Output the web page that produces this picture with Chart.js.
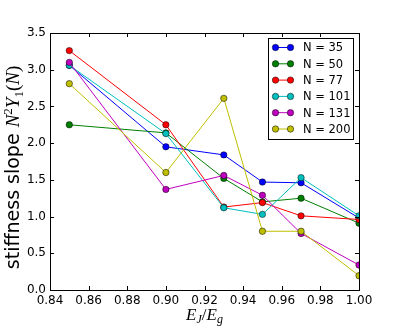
<!DOCTYPE html>
<html>
<head>
<meta charset="utf-8">
<script src="https://cdn.jsdelivr.net/npm/chart.js@4.4.0/dist/chart.umd.min.js"></script>
<style>
  html, body { margin: 0; padding: 0; background: #fff; }
  #wrap { width: 399px; height: 332px; }
</style>
</head>
<body>
<div id="wrap"><canvas id="chart" width="399" height="332"></canvas></div>
<script>
// Datos
const ejEg = [0.85, 0.90, 0.93, 0.95, 0.97, 1.00];
const labelsN = ['N = 35', 'N = 50', 'N = 77', 'N = 101', 'N = 131', 'N = 200'];
const n35 = [3.06, 1.95, 1.84, 1.47, 1.46, 0.98];
const n50 = [2.25, 2.14, 1.52, 1.20, 1.25, 0.91];
const n77 = [3.26, 2.25, 1.13, 1.19, 1.01, 0.96];
const n101 = [3.06, 2.13, 1.12, 1.03, 1.53, 1.01];
const n131 = [3.10, 1.37, 1.56, 1.29, 0.77, 0.34];
const n200 = [2.81, 1.60, 2.61, 0.80, 0.80, 0.195];
const xTicks = [0.84, 0.86, 0.88, 0.90, 0.92, 0.94, 0.96, 0.98, 1.00];
const yTicks = [0.0, 0.5, 1.0, 1.5, 2.0, 2.5, 3.0, 3.5];

// Colores estilo matplotlib clásico
const colores = ['#0000ff', '#008000', '#ff0000', '#00bfbf', '#bf00bf', '#bfbf00'];
const series = [n35, n50, n77, n101, n131, n200];

const datasets = series.map((vals, i) => ({
  label: labelsN[i],
  data: vals.map((v, j) => ({ x: ejEg[j], y: v })),
  showLine: true,
  borderColor: colores[i],
  borderWidth: 1,
  backgroundColor: colores[i],
  pointBackgroundColor: colores[i],
  pointBorderColor: '#000',
  pointBorderWidth: 0.5,
  pointRadius: 3.2,
  clip: 0,
  order: 10 - i
}));

// Texto con partes de distinto estilo (mathtext aproximado)
function drawSegments(ctx, segs, cx, cy) {
  let total = 0;
  segs.forEach(s => { ctx.font = s.font; s.w = ctx.measureText(s.t).width; total += s.w; });
  let x = cx - total / 2;
  ctx.textBaseline = 'alphabetic';
  ctx.textAlign = 'left';
  segs.forEach(s => {
    ctx.font = s.font;
    ctx.fillText(s.t, x, cy + (s.dy || 0));
    x += s.w;
  });
}

const framePlugin = {
  id: 'frame',
  afterDraw(chart) {
    const ctx = chart.ctx;
    const a = chart.chartArea;
    const xs = chart.scales.x, ys = chart.scales.y;
    ctx.save();
    ctx.strokeStyle = '#000';
    ctx.lineWidth = 1;
    ctx.strokeRect(Math.round(a.left) + 0.5, Math.round(a.top) + 0.5,
      Math.round(a.right - a.left), Math.round(a.bottom - a.top));
    // ticks hacia dentro
    ctx.beginPath();
    xTicks.forEach(t => {
      const px = Math.round(xs.getPixelForValue(t)) + 0.5;
      ctx.moveTo(px, a.bottom); ctx.lineTo(px, a.bottom - 4);
      ctx.moveTo(px, a.top); ctx.lineTo(px, a.top + 4);
    });
    yTicks.forEach(t => {
      const py = Math.round(ys.getPixelForValue(t)) + 0.5;
      ctx.moveTo(a.left, py); ctx.lineTo(a.left + 4, py);
      ctx.moveTo(a.right, py); ctx.lineTo(a.right - 4, py);
    });
    ctx.stroke();

    // títulos de ejes
    ctx.fillStyle = '#000';
    const mi = 'italic 19px "Liberation Serif"';
    const up = '19px "Liberation Serif"';
    drawSegments(ctx, [
      { t: 'E', font: 'italic 17px "Liberation Serif"' },
      { t: 'J', font: 'italic 12px "Liberation Serif"', dy: 3 },
      { t: '/', font: '17px "Liberation Serif"' },
      { t: 'E', font: 'italic 17px "Liberation Serif"' },
      { t: 'g', font: 'italic 12px "Liberation Serif"', dy: 3 }
    ], (a.left + a.right) / 2, 320);

    ctx.save();
    ctx.translate(19, (a.top + a.bottom) / 2 + 6);
    ctx.rotate(-Math.PI / 2);
    drawSegments(ctx, [
      { t: 'stiffness slope ', font: '19px "DejaVu Sans"' },
      { t: 'N', font: mi },
      { t: '2', font: '13px "Liberation Serif"', dy: -7 },
      { t: 'Y', font: mi },
      { t: '1', font: '13px "Liberation Serif"', dy: 4 },
      { t: '(', font: up },
      { t: 'N', font: mi },
      { t: ')', font: up }
    ], 0, 0);
    ctx.restore();

    // leyenda
    const bx = 268, by = 38, bw = 85, bh = 101;
    ctx.fillStyle = '#fff';
    ctx.fillRect(bx, by, bw, bh);
    ctx.strokeStyle = '#000';
    ctx.strokeRect(bx + 0.5, by + 0.5, bw, bh);
    ctx.font = '11.5px "DejaVu Sans"';
    ctx.textBaseline = 'middle';
    ctx.textAlign = 'left';
    labelsN.forEach((lab, i) => {
      const y = by + 9.5 + i * 16.3;
      ctx.strokeStyle = colores[i];
      ctx.beginPath();
      ctx.moveTo(275.5, y); ctx.lineTo(290.5, y);
      ctx.stroke();
      [275.5, 290.5].forEach(px => {
        ctx.beginPath();
        ctx.arc(px, y, 3.2, 0, Math.PI * 2);
        ctx.fillStyle = colores[i];
        ctx.fill();
        ctx.lineWidth = 0.5;
        ctx.strokeStyle = '#000';
        ctx.stroke();
        ctx.lineWidth = 1;
      });
      ctx.fillStyle = '#000';
      ctx.fillText(lab, 303, y + 1);
    });
    ctx.restore();
  }
};

new Chart(document.getElementById('chart'), {
  type: 'scatter',
  data: { datasets },
  options: {
    responsive: false,
    animation: false,
    layout: { padding: { top: 33, right: 40, left: 0, bottom: 0 } },
    plugins: { legend: { display: false }, tooltip: { enabled: false } },
    scales: {
      x: {
        type: 'linear',
        min: 0.84, max: 1.00,
        afterFit(scale) { scale.height = 42; },
        afterBuildTicks(scale) { scale.ticks = xTicks.map(v => ({ value: v })); },
        grid: { display: false, drawTicks: false },
        border: { display: false },
        ticks: {
          padding: 4,
          color: '#000',
          font: { family: 'DejaVu Sans', size: 12 },
          maxRotation: 0,
          callback: v => Number(v).toFixed(2)
        }
      },
      y: {
        type: 'linear',
        min: 0, max: 3.5,
        afterFit(scale) { scale.width = 50; },
        afterBuildTicks(scale) { scale.ticks = yTicks.map(v => ({ value: v })); },
        grid: { display: false, drawTicks: false },
        border: { display: false },
        ticks: {
          padding: 4,
          color: '#000',
          font: { family: 'DejaVu Sans', size: 12 },
          callback: v => Number(v).toFixed(1)
        }
      }
    }
  },
  plugins: [framePlugin]
});
</script>
</body>
</html>
